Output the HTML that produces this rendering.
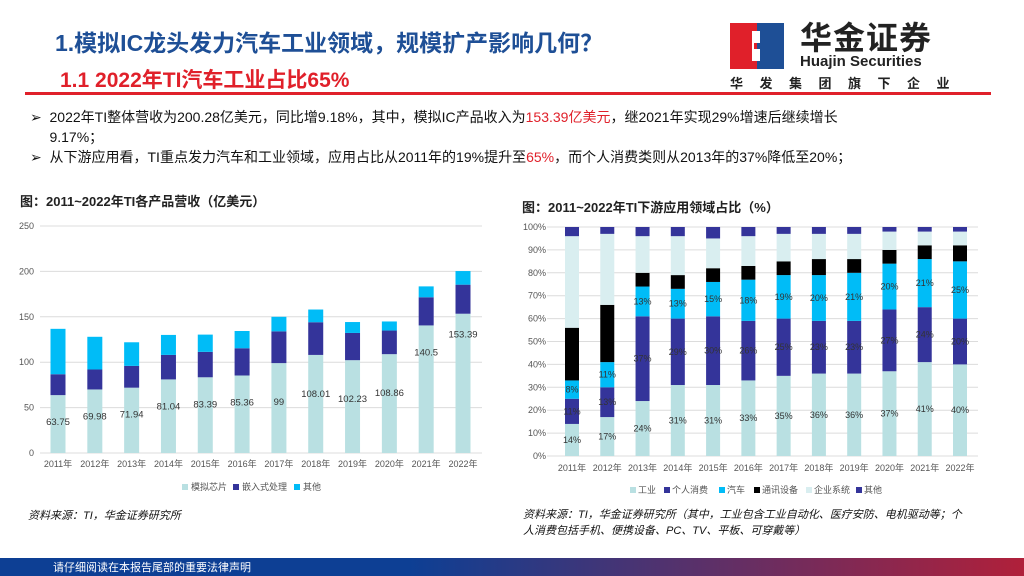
<!DOCTYPE html>
<html><head><meta charset="utf-8"><style>
body{margin:0;width:1024px;height:576px;position:relative;background:#fff;overflow:hidden;font-family:"Liberation Sans","Noto Sans CJK SC",sans-serif;}
.a{position:absolute;white-space:nowrap;}
</style></head><body>
<div class="a" style="left:55px;top:24px;font-size:23px;font-weight:bold;color:#1e4f96;">1.模拟IC龙头发力汽车工业领域，规模扩产影响几何？</div>
<div class="a" style="left:60px;top:64px;font-size:21px;font-weight:bold;color:#e0202a;">1.1 2022年TI汽车工业占比65%</div>
<div class="a" style="left:25px;top:92px;width:966px;height:3px;background:#e0202a;"></div>
<div class="a" style="left:730px;top:22px;width:230px;height:70px;">
 <svg width="54" height="46" style="position:absolute;left:0;top:1px"><rect x="0" y="0" width="27" height="46" fill="#e0202a"/><rect x="27" y="0" width="27" height="46" fill="#1e4f96"/><path d="M22 8h8v12h-6v6h6v12h-8z" fill="#fff"/></svg>
 <div class="a" style="left:70px;top:0px;font-size:32px;line-height:1;font-weight:bold;color:#222;letter-spacing:1px;">华金证券</div>
 <div class="a" style="left:70px;top:32px;font-size:15px;line-height:1;font-weight:bold;color:#222;">Huajin Securities</div>
 <div class="a" style="left:0;top:55px;font-size:13px;line-height:1;font-weight:bold;color:#222;letter-spacing:16.5px;">华发集团旗下企业</div>
</div>
<div class="a" style="left:30px;top:107px;font-size:14px;color:#111;line-height:20px;white-space:normal;width:970px;">➢&nbsp;&nbsp;2022年TI整体营收为200.28亿美元，同比增9.18%，其中，模拟IC产品收入为<span style="color:#e0202a">153.39亿美元</span>，继2021年实现29%增速后继续增长<br>&nbsp;&nbsp;&nbsp;&nbsp;&nbsp;9.17%；</div>
<div class="a" style="left:30px;top:147px;font-size:14px;color:#111;">➢&nbsp;&nbsp;从下游应用看，TI重点发力汽车和工业领域，应用占比从2011年的19%提升至<span style="color:#e0202a">65%</span>，而个人消费类则从2013年的37%降低至20%；</div>
<div class="a" style="left:20px;top:191px;font-size:13px;font-weight:bold;color:#222;">图：2011~2022年TI各产品营收（亿美元）</div>
<div class="a" style="left:522px;top:197px;font-size:13px;font-weight:bold;color:#222;">图：2011~2022年TI下游应用领域占比（%）</div>
<svg class="a" style="left:0;top:0" width="1024" height="576" id="charts"></svg>
<div class="a" style="left:28px;top:507px;font-size:11px;font-style:italic;color:#111;">资料来源：TI，华金证券研究所</div>
<div class="a" style="left:523px;top:507px;font-size:11px;font-style:italic;color:#111;line-height:16px;">资料来源：TI，华金证券研究所（其中，工业包含工业自动化、医疗安防、电机驱动等；个<br>人消费包括手机、便携设备、PC、TV、平板、可穿戴等）</div>
<div class="a" style="left:0;top:558px;width:1024px;height:18px;background:linear-gradient(90deg,#0d3f94 0%,#0d3f94 40%,#b0203a 100%);"></div>
<div class="a" style="left:53px;top:559px;font-size:11px;color:#fff;">请仔细阅读在本报告尾部的重要法律声明</div>
<script>
const years=['2011年','2012年','2013年','2014年','2015年','2016年','2017年','2018年','2019年','2020年','2021年','2022年'];
const analog=[63.75,69.98,71.94,81.04,83.39,85.36,99,108.01,102.23,108.86,140.5,153.39];
const embedded=[23,22,24,27,28,30,35,36,30,26,31,32];
const otherRev=[50,36,26,22,19,19,16,14,12,10,12,15];
const leftTicks=[0,50,100,150,200,250];
const industrial=[14,17,24,31,31,33,35,36,36,37,41,40];
const personal=[11,13,37,29,30,26,25,23,23,27,24,20];
const auto=[8,11,13,13,15,18,19,20,21,20,21,25];
const comm=[23,25,6,6,6,6,6,7,6,6,6,7];
const enterprise=[40,31,16,17,13,13,12,11,11,8,6,6];
const otherApp=[4,3,4,4,5,4,3,3,3,2,2,2];
const rightTicks=[0,10,20,30,40,50,60,70,80,90,100];

const svg=document.getElementById('charts');
const NS='http://www.w3.org/2000/svg';
function el(t,a,p){const e=document.createElementNS(NS,t);for(const k in a)e.setAttribute(k,a[k]);(p||svg).appendChild(e);return e;}
function txt(x,y,s,sz,anchor,fill){const e=el('text',{x:x,y:y,'font-size':sz,'text-anchor':anchor||'middle',fill:fill||'#444','font-family':'Liberation Sans, Noto Sans CJK SC, sans-serif'});e.textContent=s;return e;}

// left chart
const L={x0:40,x1:482,yTop:226,yBot:453,max:250};
const ly=v=>L.yBot-(v/L.max)*(L.yBot-L.yTop);
const lx=i=>58+i*(463-58)/11;
leftTicks.forEach(t=>{const g=el('line',{x1:L.x0,x2:L.x1,y1:ly(t),y2:ly(t),stroke:'#dcdcdc','stroke-width':1});

const tt=txt(34,ly(t)+3,String(t),9,'end','#555');});
years.forEach((y,i)=>{
 const segs=[[analog[i],'#b9e0e2'],[embedded[i],'#34349a'],[otherRev[i],'#00bcf7']];
 let base=0;
 segs.forEach(s=>{const r=el('rect',{x:lx(i)-7.5,y:ly(base+s[0]),width:15,height:ly(base)-ly(base+s[0]),fill:s[1]});
 base+=s[0];});
 const v=txt(lx(i),0,String(analog[i]),9.5,'middle','#333');
 if(i>=6) v.setAttribute('y',ly(analog[i])+(i>=10?(i==10?30:24):42));
 else v.setAttribute('y',ly(analog[i])+30);
 
 const xl=txt(lx(i),467,y,9,'middle','#555');
});
[['模拟芯片','#b9e0e2',182],['嵌入式处理','#34349a',233],['其他','#00bcf7',294]].forEach(l=>{
 const r=el('rect',{x:l[2],y:484,width:6,height:6,fill:l[1]});
 const t=txt(l[2]+9,490,l[0],9,'start','#555');});

// right chart
const R={x0:547,x1:978,yTop:227,yBot:456};
const ry=v=>R.yBot-(v/100)*(R.yBot-R.yTop);
const rx=i=>572+i*(960-572)/11;
rightTicks.forEach(t=>{const g=el('line',{x1:R.x0,x2:R.x1,y1:ry(t),y2:ry(t),stroke:'#dcdcdc','stroke-width':1});

const tt=txt(546,ry(t)+3,t+'%',9,'end','#555');});
const series=[[industrial,'#b9e0e2',true],[personal,'#34349a',true],[auto,'#00bcf7',true],[comm,'#000000',false],[enterprise,'#d9eef0',false],[otherApp,'#34349a',false]];
years.forEach((y,i)=>{
 let base=0;
 series.forEach(s=>{const v=s[0][i];
  const r=el('rect',{x:rx(i)-7,y:ry(base+v),width:14,height:ry(base)-ry(base+v),fill:s[1]});
  
  if(s[2]){const t=txt(rx(i),ry(base+v/2)+3,v+'%',9,'middle','#333');}
  base+=v;});
 const xl=txt(rx(i),471,y,9,'middle','#555');
});
[['工业','#b9e0e2',630],['个人消费','#34349a',664],['汽车','#00bcf7',719],['通讯设备','#000',754],['企业系统','#d9eef0',806],['其他','#34349a',856]].forEach(l=>{
 const r=el('rect',{x:l[2],y:487,width:6,height:6,fill:l[1]});
 const t=txt(l[2]+8,493,l[0],9,'start','#555');});
</script>
</body></html>
